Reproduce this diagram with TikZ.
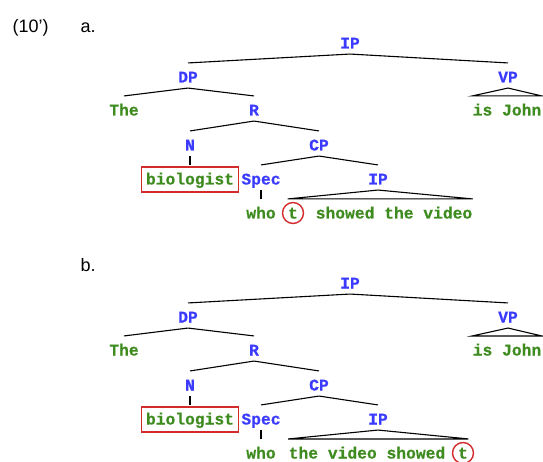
\documentclass[tikz,border=0pt]{standalone}
\usepackage{fontspec}
\setmainfont{Liberation Sans}
\setmonofont{Liberation Mono}[BoldFeatures={FakeBold=0.6}]

\definecolor{catblue}{HTML}{3B3BFF}
\definecolor{wordgreen}{HTML}{3E8B1F}
\definecolor{markred}{HTML}{D32B2B}

\tikzset{
  cat/.style={text=catblue, font=\fontsize{16.3}{18}\selectfont\ttfamily\bfseries,
    inner sep=0pt, text height=11pt, text depth=0pt},
  word/.style={cat, text=wordgreen},
  branch/.style={to path={([yshift=-5pt]\tikztostart.south) -- ([yshift=8pt]\tikztotarget.north)}},
  roof/.style={line join=miter},
  marked/.style={draw=markred, line width=1.4pt},
  ex/.style={font=\fontsize{18}{20}\selectfont, anchor=base west, inner sep=0pt},
}

% upper part, the same in both trees
\newcommand\reltree{
  \node[cat] (IP) at (350,43) {IP};
  \node[cat] (DP) at (188,77) {DP};
  \node[cat] (VP) at (508,77) {VP};
  \node[word] (the) at (124,110) {The};
  \node[cat] (R) at (254,110) {R};
  \node[word] (john) at (507,110) {is John};
  \node[cat] (N) at (190,145) {N};
  \node[cat] (CP) at (319,145) {CP};
  \node[word] (bio) at (190,179) {biologist};
  \node[cat] (spec) at (261,179) {Spec};
  \node[cat] (IPb) at (378,179) {IP};
  \node[word] (who) at (261,213) {who};
  \foreach \p/\c in {IP/DP, IP/VP, DP/the, DP/R, R/N, R/CP, N/bio, CP/spec, CP/IPb, spec/who}
    \draw (\p) to[branch] (\c);
  \draw[roof] ([yshift=-5pt]VP.south) -- ([yshift=8pt]john.north west)
    -- ([yshift=8pt]john.north east) -- cycle;
  \draw[marked] ([shift={(-4pt,6pt)}]bio.north west) rectangle ([shift={(4pt,-7pt)}]bio.south east);
}

\begin{document}
\begin{tikzpicture}[x=1pt, y=-1pt, line width=1.1pt]
\useasboundingbox (0,0) rectangle (543,462);
\node[ex] (num) at (12,33) {(10’)};

% a. trace right after the relative pronoun
\node[ex] (la) at (80,33) {a.};
\reltree
\node[word] (t) at (293,213) {t};
\node[word] (rest) at (394,213) {showed the video};
\draw[roof] ([yshift=-5pt]IPb.south) -- ([yshift=8pt]t.north west)
  -- ([yshift=8pt]rest.north east) -- cycle;
\draw[marked] (t) circle[radius=10.5];

% b. trace at the end of the clause
\begin{scope}[yshift=-240pt]
\node[ex] (lb) at (80,32) {b.};
\reltree
\node[word] (rest) at (367,213) {the video showed};
\node[word] (t) at (463,213) {t};
\draw[roof] ([yshift=-5pt]IPb.south) -- ([yshift=8pt]rest.north west)
  -- ([yshift=8pt]t.north east) -- cycle;
\draw[marked] (t) circle[radius=10.5];
\end{scope}
\end{tikzpicture}
\end{document}
